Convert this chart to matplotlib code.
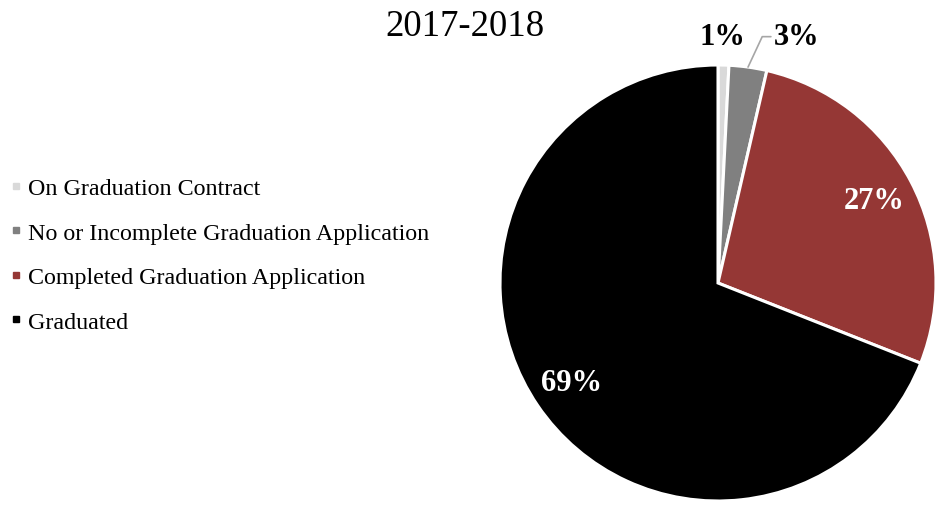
import numpy as np
import matplotlib
matplotlib.use("Agg")
import matplotlib.pyplot as plt
from matplotlib.lines import Line2D

plt.rcParams['font.family'] = ['Liberation Serif', 'DejaVu Serif']

# data
title = "2017-2018"
categories = ["On Graduation Contract",
              "No or Incomplete Graduation Application",
              "Completed Graduation Application",
              "Graduated"]
values = [0.8, 2.8, 27.4, 69.0]
colors = ["#D9D9D9", "#808080", "#953735", "#000000"]

fig = plt.figure(figsize=(9.38, 5.06), dpi=100)
# pie centred at (718, 284) px, radius 218 px
ax = fig.add_axes([500 / 938, 4 / 506, 436 / 938, 436 / 506])
wedges, _ = ax.pie(values, colors=colors, startangle=90, counterclock=False,
                   radius=1, wedgeprops=dict(edgecolor="white", linewidth=2.2))
ax.set_xlim(-1, 1)
ax.set_ylim(-1, 1)
ax.set_aspect("equal")
ax.axis("off")

total = sum(values)
for w, v in zip(wedges, values):
    mid = np.deg2rad((w.theta1 + w.theta2) / 2)
    txt = "%.0f%%" % v
    if v / total > 0.1:
        r = 0.81
        ax.text(r * np.cos(mid), r * np.sin(mid), txt, ha="center", va="center",
                color="white", fontsize=22, fontweight="bold")

# small slices get labels outside the pie
small = [(wedges[0], values[0], (0.02, 1.13), False),
         (wedges[1], values[1], (0.36, 1.13), True)]
for w, v, pos, leader in small:
    mid = np.deg2rad((w.theta1 + w.theta2) / 2)
    if leader:
        ax.annotate("%.0f%%" % v, xy=(np.cos(mid), np.sin(mid)), xytext=pos,
                    ha="center", va="center", fontsize=22, fontweight="bold",
                    annotation_clip=False,
                    arrowprops=dict(arrowstyle="-", color="#A6A6A6", lw=1.2,
                                    relpos=(0, 0.5), shrinkA=0, shrinkB=0,
                                    connectionstyle="angle,angleA=0,angleB=65"))
    else:
        ax.text(pos[0], pos[1], "%.0f%%" % v, ha="center", va="center",
                fontsize=22, fontweight="bold")

fig.text(465 / 938, 1 - 27 / 506, title, ha="center", va="center", fontsize=26.5)

handles = [Line2D([], [], marker="s", linestyle="none", markersize=5,
                  markerfacecolor=c, markeredgecolor=c) for c in colors]
fig.legend(handles, categories, loc="center left",
           bbox_to_anchor=(0.0, 1 - 256 / 506), frameon=False, fontsize=17.3,
           handlelength=0.5, handletextpad=0.25, labelspacing=0.95,
           borderaxespad=0.0)

fig.savefig("out.png", dpi=100)
